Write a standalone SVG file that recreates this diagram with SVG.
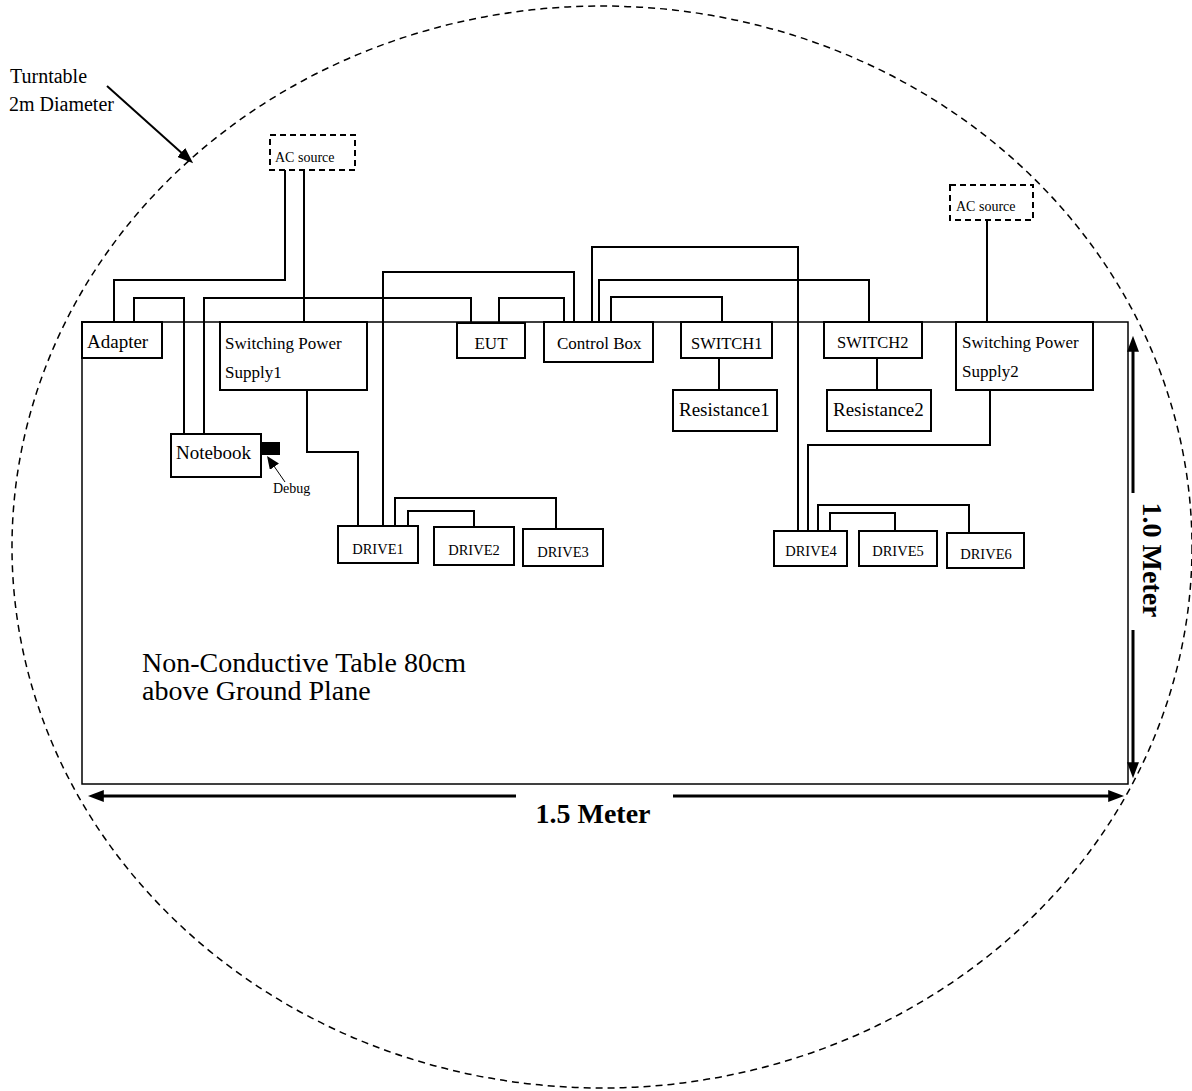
<svg xmlns="http://www.w3.org/2000/svg" width="1192" height="1091" viewBox="0 0 1192 1091">
<style>
text{font-family:"Liberation Serif","Times New Roman",serif;fill:#000}
.box{fill:#fff;stroke:#000;stroke-width:2}
.ac{fill:#fff;stroke:#000;stroke-width:2;stroke-dasharray:6 4}
.wire{fill:none;stroke:#000;stroke-width:2}
.dim{fill:none;stroke:#000;stroke-width:3}
.bold{font-weight:bold;font-size:28px}
</style>
<defs>
<marker id="arr" viewBox="0 0 10 10" refX="3" refY="5" markerWidth="16" markerHeight="12" markerUnits="userSpaceOnUse" orient="auto" preserveAspectRatio="none"><path d="M0,0 L10,5 L0,10 z" fill="#000"/></marker>
<marker id="arrs" viewBox="0 0 10 10" refX="3" refY="5" markerWidth="13" markerHeight="11" markerUnits="userSpaceOnUse" orient="auto" preserveAspectRatio="none"><path d="M0,0 L10,5 L0,10 z" fill="#000"/></marker>
</defs>
<rect width="1192" height="1091" fill="#fff"/>
<g id="turntable">
<ellipse cx="602" cy="547" rx="590" ry="541" fill="none" stroke="#000" stroke-width="1.5" stroke-dasharray="7 5"/>
<text x="10" y="83" font-size="20">Turntable</text>
<text x="9" y="111" font-size="20">2m Diameter</text>
<path d="M107,86 L184.8,155.7" stroke="#000" stroke-width="2" fill="none" marker-end="url(#arr)"/>
</g>
<g id="table">
<rect x="82" y="322" width="1046" height="462" fill="none" stroke="#000" stroke-width="1.5"/>
<text x="142" y="672" font-size="28">Non-Conductive Table 80cm</text>
<text x="142" y="700" font-size="28">above Ground Plane</text>
</g>
<g id="connectors">
<path class="wire" d="M285,170 V280 H114 V322"/>
<path class="wire" d="M304,170 V322"/>
<path class="wire" d="M134,322 V298 H184 V434"/>
<path class="wire" d="M204,434 V298 H471 V322"/>
<path class="wire" d="M383,526 V272 H574 V322"/>
<path class="wire" d="M499,322 V298 H564 V322"/>
<path class="wire" d="M592,322 V247 H798 V531"/>
<path class="wire" d="M599,322 V280 H869 V322"/>
<path class="wire" d="M611,322 V297 H722 V322"/>
<path class="wire" d="M719,358 V390"/>
<path class="wire" d="M877,358 V390"/>
<path class="wire" d="M987,220 V322"/>
<path class="wire" d="M990,390 V445 H808 V531"/>
<path class="wire" d="M307,390 V452 H358 V526"/>
<path class="wire" d="M395,526 V498 H556 V529"/>
<path class="wire" d="M408,526 V511 H474 V527"/>
<path class="wire" d="M818,531 V505 H969 V533"/>
<path class="wire" d="M830,531 V513 H895 V531"/>
</g>
<g id="ac-source-1"><rect class="ac" x="270" y="135" width="85" height="35"/><text x="275" y="162" font-size="14">AC source</text></g>
<g id="ac-source-2"><rect class="ac" x="950" y="185" width="83" height="35"/><text x="956" y="211" font-size="14">AC source</text></g>
<g id="adapter"><rect class="box" x="82" y="322" width="80" height="36"/><text x="87" y="348" font-size="19">Adapter</text></g>
<g id="sps1"><rect class="box" x="220" y="322" width="147" height="68"/><text x="225" y="349" font-size="17">Switching Power</text><text x="225" y="378" font-size="17">Supply1</text></g>
<g id="notebook"><rect class="box" x="171" y="434" width="90" height="43"/><text x="176" y="459" font-size="19">Notebook</text></g>
<g id="debug"><rect x="261" y="442" width="19" height="13" fill="#000"/><path d="M285,482 L272.2,463.5" stroke="#000" stroke-width="1" fill="none" marker-end="url(#arrs)"/><text x="273" y="493" font-size="14">Debug</text></g>
<g id="eut"><rect class="box" x="457" y="323" width="68" height="35"/><text x="491" y="349" font-size="17" text-anchor="middle">EUT</text></g>
<g id="control-box"><rect class="box" x="544" y="322" width="109" height="40"/><text x="557" y="349" font-size="17">Control Box</text></g>
<g id="switch1"><rect class="box" x="681" y="322" width="91" height="36"/><text x="691" y="349" font-size="16.5">SWITCH1</text></g>
<g id="resistance1"><rect class="box" x="673" y="390" width="104" height="41"/><text x="679" y="416" font-size="19">Resistance1</text></g>
<g id="switch2"><rect class="box" x="824" y="322" width="98" height="36"/><text x="837" y="348" font-size="16.5">SWITCH2</text></g>
<g id="resistance2"><rect class="box" x="827" y="390" width="104" height="41"/><text x="833" y="416" font-size="19">Resistance2</text></g>
<g id="sps2"><rect class="box" x="956" y="322" width="137" height="68"/><text x="962" y="348" font-size="17">Switching Power</text><text x="962" y="377" font-size="17">Supply2</text></g>
<g id="drive1"><rect class="box" x="338" y="526" width="80" height="37"/><text x="378" y="554" font-size="14.5" text-anchor="middle">DRIVE1</text></g>
<g id="drive2"><rect class="box" x="434" y="527" width="80" height="38"/><text x="474" y="555" font-size="14.5" text-anchor="middle">DRIVE2</text></g>
<g id="drive3"><rect class="box" x="523" y="529" width="80" height="37"/><text x="563" y="557" font-size="14.5" text-anchor="middle">DRIVE3</text></g>
<g id="drive4"><rect class="box" x="774" y="531" width="73" height="35"/><text x="811" y="556" font-size="14.5" text-anchor="middle">DRIVE4</text></g>
<g id="drive5"><rect class="box" x="859" y="531" width="78" height="35"/><text x="898" y="556" font-size="14.5" text-anchor="middle">DRIVE5</text></g>
<g id="drive6"><rect class="box" x="947" y="533" width="77" height="35"/><text x="986" y="559" font-size="14.5" text-anchor="middle">DRIVE6</text></g>
<g id="dimensions">
<path class="dim" d="M516,796 H99" marker-end="url(#arr)"/>
<path class="dim" d="M673,796 H1113" marker-end="url(#arr)"/>
<text class="bold" x="593" y="823" text-anchor="middle">1.5 Meter</text>
<path class="dim" d="M1133,493 V347" marker-end="url(#arr)"/>
<path class="dim" d="M1133,630 V767" marker-end="url(#arr)"/>
<text class="bold" transform="translate(1143,560) rotate(90)" text-anchor="middle">1.0 Meter</text>
</g>
</svg>
